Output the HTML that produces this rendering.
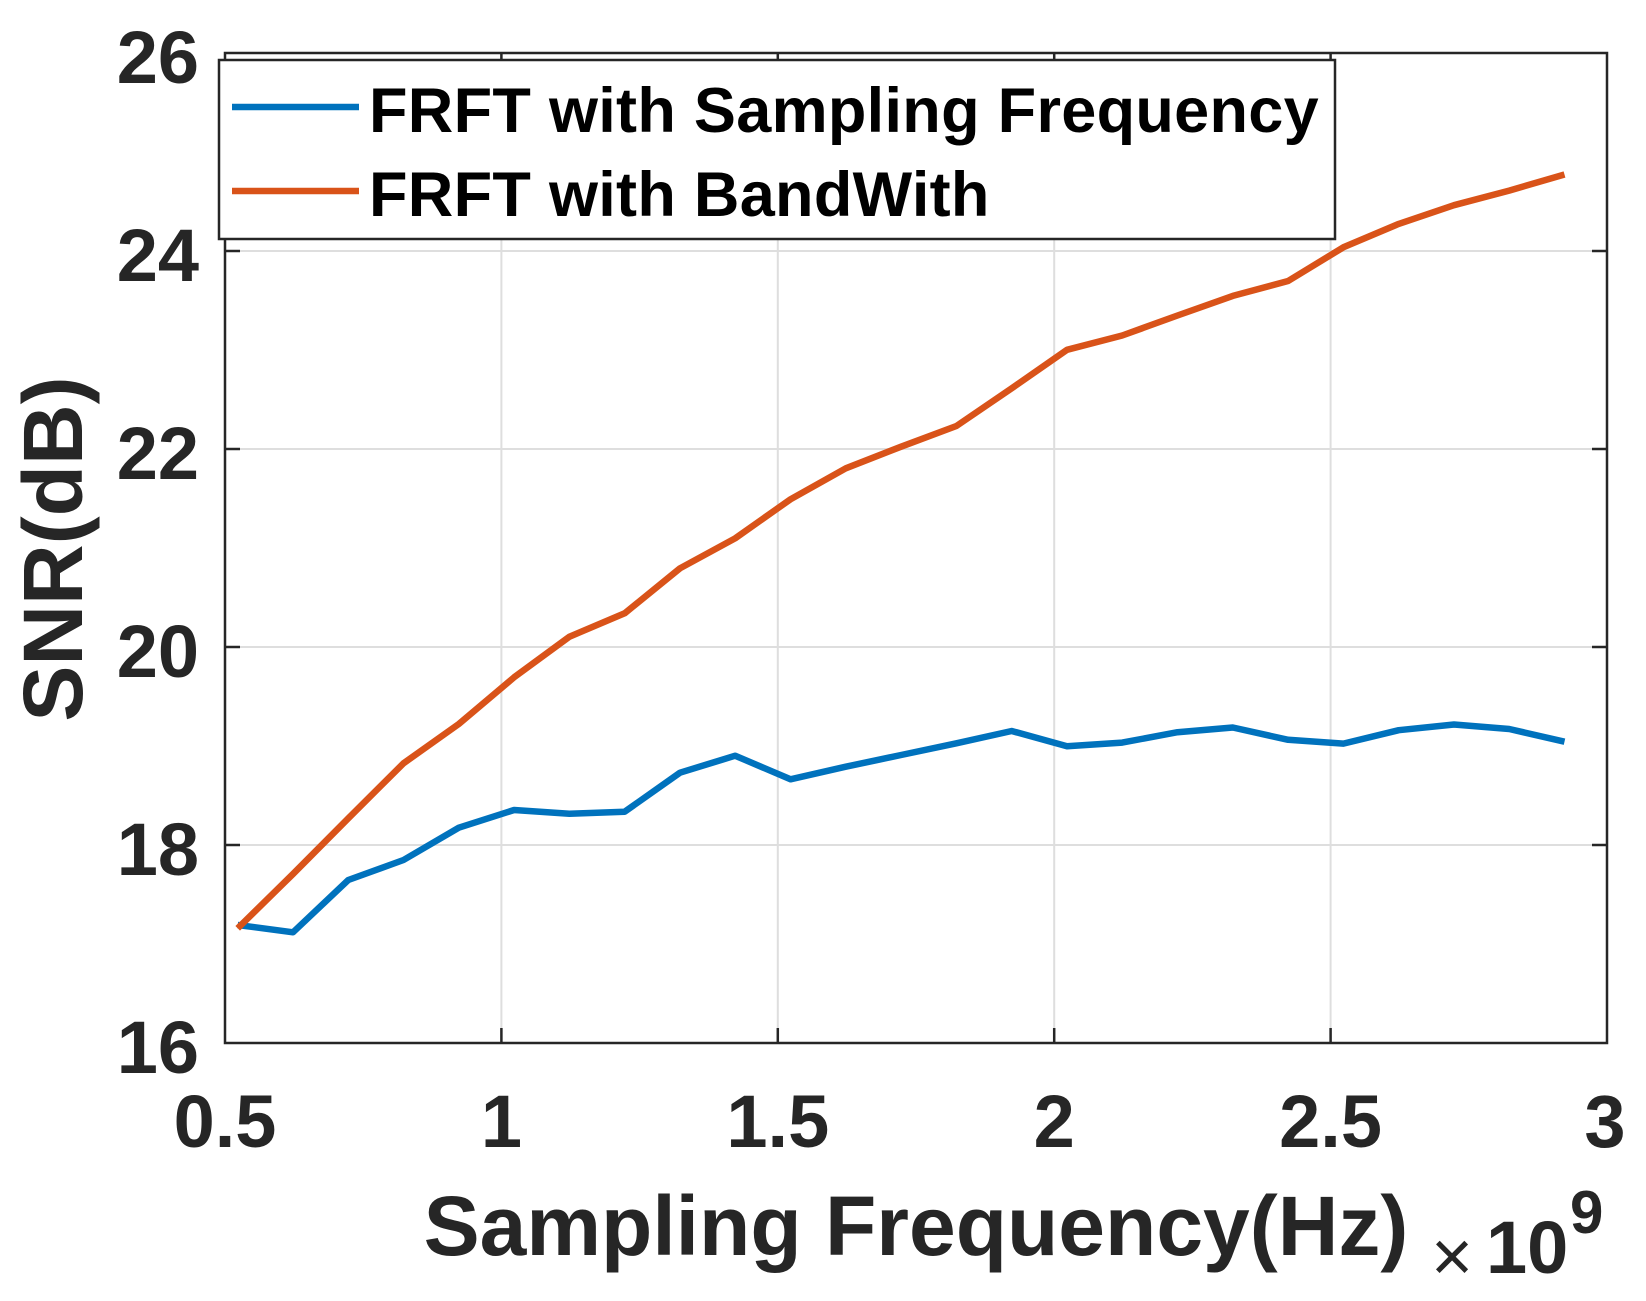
<!DOCTYPE html>
<html>
<head>
<meta charset="utf-8">
<style>
  html, body { margin:0; padding:0; background:#ffffff; }
  body { width:1646px; height:1301px; overflow:hidden; }
  svg { display:block; }
  text { font-family: "Liberation Sans", Arial, Helvetica, sans-serif; }
</style>
</head>
<body>
<svg width="1646" height="1301" viewBox="0 0 1646 1301" xmlns="http://www.w3.org/2000/svg">
  <rect x="0" y="0" width="1646" height="1301" fill="#ffffff"/>

  <!-- grid -->
  <g stroke="#dedede" stroke-width="2" fill="none">
    <line x1="501.4" y1="53" x2="501.4" y2="1043"/>
    <line x1="777.8" y1="53" x2="777.8" y2="1043"/>
    <line x1="1054.2" y1="53" x2="1054.2" y2="1043"/>
    <line x1="1330.6" y1="53" x2="1330.6" y2="1043"/>
    <line x1="225" y1="845" x2="1607" y2="845"/>
    <line x1="225" y1="647" x2="1607" y2="647"/>
    <line x1="225" y1="449" x2="1607" y2="449"/>
    <line x1="225" y1="251" x2="1607" y2="251"/>
  </g>

  <!-- data series -->
  <g fill="none" stroke-width="6.5" stroke-linejoin="round" stroke-linecap="butt">
    <polyline stroke="#0072BD" points="
      237.7,925 293.0,932.3 348.3,880 403.5,860 458.8,827.7 514.1,810 569.4,813.7 624.7,811.7 680.0,772.7
      735.2,755.7 790.5,779.3 845.8,766.7 901.1,755 956.4,743.3 1011.7,731 1067.0,746.2 1122.2,742.6
      1177.5,732.2 1232.8,727.5 1288.1,739.8 1343.4,743.6 1398.7,730.2 1454.0,724.5 1509.2,729 1564.5,741.7"/>
    <polyline stroke="#D95319" points="
      237.7,928.3 293.0,874 348.3,818.3 403.5,763.3 458.8,724 514.1,677.3 569.4,636.7 624.7,613.3 680.0,568.3
      735.2,538.3 790.5,499.3 845.8,468.3 901.1,446.7 956.4,426 1011.7,388.3 1067.0,349.8 1122.2,335.5
      1177.5,315.5 1232.8,295.9 1288.1,281 1343.4,247.3 1398.7,223.9 1454.0,205.2 1509.2,190.6 1564.5,174.5"/>
  </g>

  <!-- axes box -->
  <rect x="225" y="53" width="1382" height="990" fill="none" stroke="#262626" stroke-width="2.5"/>

  <!-- ticks -->
  <g stroke="#262626" stroke-width="2.5">
    <line x1="501.4" y1="1043" x2="501.4" y2="1028"/>
    <line x1="777.8" y1="1043" x2="777.8" y2="1028"/>
    <line x1="1054.2" y1="1043" x2="1054.2" y2="1028"/>
    <line x1="1330.6" y1="1043" x2="1330.6" y2="1028"/>
    <line x1="501.4" y1="53" x2="501.4" y2="68"/>
    <line x1="777.8" y1="53" x2="777.8" y2="68"/>
    <line x1="1054.2" y1="53" x2="1054.2" y2="68"/>
    <line x1="1330.6" y1="53" x2="1330.6" y2="68"/>
    <line x1="225" y1="845" x2="240" y2="845"/>
    <line x1="225" y1="647" x2="240" y2="647"/>
    <line x1="225" y1="449" x2="240" y2="449"/>
    <line x1="225" y1="251" x2="240" y2="251"/>
    <line x1="1607" y1="845" x2="1592" y2="845"/>
    <line x1="1607" y1="647" x2="1592" y2="647"/>
    <line x1="1607" y1="449" x2="1592" y2="449"/>
    <line x1="1607" y1="251" x2="1592" y2="251"/>
  </g>

  <!-- y tick labels -->
  <g font-size="74" font-weight="bold" fill="#262626" text-anchor="end">
    <text x="199" y="1073">16</text>
    <text x="199" y="875">18</text>
    <text x="199" y="677">20</text>
    <text x="199" y="479">22</text>
    <text x="199" y="281">24</text>
    <text x="199" y="83">26</text>
  </g>

  <!-- x tick labels -->
  <g font-size="74" font-weight="bold" fill="#262626" text-anchor="middle">
    <text x="225" y="1147">0.5</text>
    <text x="501.4" y="1147">1</text>
    <text x="777.8" y="1147">1.5</text>
    <text x="1054.2" y="1147">2</text>
    <text x="1330.6" y="1147">2.5</text>
    <text x="1605" y="1147">3</text>
  </g>

  <!-- axis labels -->
  <text x="916" y="1255" font-size="84" font-weight="bold" fill="#262626" text-anchor="middle">Sampling Frequency(Hz)</text>
  <text transform="translate(82,549) rotate(-90)" x="0" y="0" font-size="84" font-weight="bold" fill="#262626" text-anchor="middle">SNR(dB)</text>

  <!-- exponent -->
  <text x="1431" y="1281" font-size="72" fill="#262626">×</text>
  <text x="1486" y="1273" font-size="74" font-weight="bold" fill="#262626">10</text>
  <text x="1570" y="1233" font-size="60" font-weight="bold" fill="#262626">9</text>

  <!-- legend -->
  <rect x="219" y="60" width="1116" height="179" fill="#ffffff" stroke="#262626" stroke-width="2.5"/>
  <line x1="232" y1="107" x2="359" y2="107" stroke="#0072BD" stroke-width="6.5"/>
  <line x1="232" y1="191" x2="359" y2="191" stroke="#D95319" stroke-width="6.5"/>
  <g font-size="63" font-weight="bold" fill="#000000" letter-spacing="0.3">
    <text x="369" y="132">FRFT with Sampling Frequency</text>
    <text x="369" y="216">FRFT with BandWith</text>
  </g>
</svg>
</body>
</html>
